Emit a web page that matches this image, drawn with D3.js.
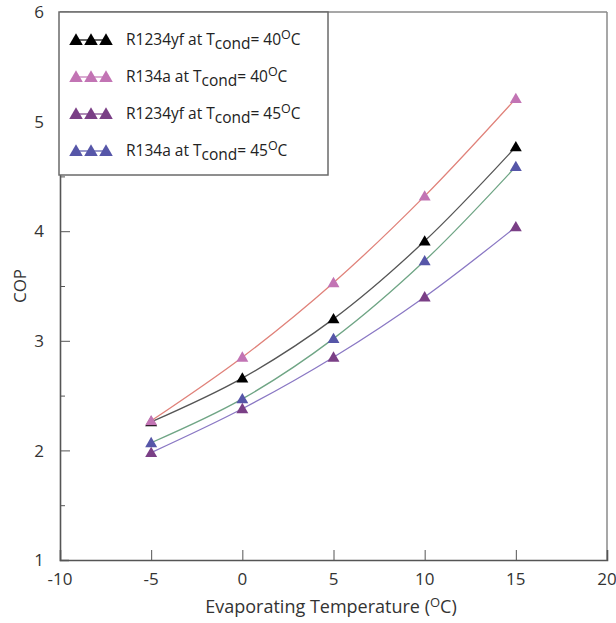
<!DOCTYPE html>
<html>
<head>
<meta charset="utf-8">
<script src="https://d3js.org/d3.v7.min.js"></script>
<style>
  body { margin: 0; background: #fff; }
  text { font-family: "Open Sans", sans-serif; fill: #333; }
</style>
</head>
<body>
<svg id="chart" width="616" height="623"></svg>
<script>
// values
var temps = [-5, 0, 5, 10, 15];
var r1234yf40 = [2.26, 2.66, 3.20, 3.91, 4.77];
var r134a40 = [2.27, 2.85, 3.53, 4.32, 5.21];
var r1234yf45 = [1.98, 2.38, 2.85, 3.40, 4.04];
var r134a45 = [2.07, 2.47, 3.02, 3.73, 4.59];
var seriesNames = ["R1234yf", "R134a", "R1234yf", "R134a"];
var condTemps = ["40", "40", "45", "45"];
var xTicks = [-10, -5, 0, 5, 10, 15, 20];
var yTicks = [1, 2, 3, 4, 5, 6];

var series = [
  {name: seriesNames[0], cond: condTemps[0], values: r1234yf40, marker: "#000000", line: "#555555"},
  {name: seriesNames[1], cond: condTemps[1], values: r134a40, marker: "#c274b4", line: "#e0827a"},
  {name: seriesNames[2], cond: condTemps[2], values: r1234yf45, marker: "#7a3f86", line: "#8a78c4"},
  {name: seriesNames[3], cond: condTemps[3], values: r134a45, marker: "#5656a8", line: "#6fa585"}
];

var pLeft = 60, pRight = 607, pTop = 12, pBottom = 560;
var svg = d3.select("#chart");

var x = d3.scaleLinear().domain([-10, 20]).range([pLeft, pRight]);
var y = d3.scaleLinear().domain([1, 6]).range([pBottom, pTop]);

// frame: top and right in lighter grey
svg.append("line").attr("x1", pLeft).attr("x2", pRight).attr("y1", pTop).attr("y2", pTop)
  .attr("stroke", "#8a8a8a").attr("stroke-width", 1.5);
svg.append("line").attr("x1", pRight).attr("x2", pRight).attr("y1", pTop).attr("y2", pBottom)
  .attr("stroke", "#8a8a8a").attr("stroke-width", 1.5);

// y axis, ticks pointing inward
var yAxis = svg.append("g").attr("transform", "translate(" + pLeft + ",0)")
  .call(d3.axisRight(y).tickValues(d3.range(1, 6.01, 0.5)).tickSize(9).tickFormat(""));
yAxis.selectAll(".tick line").attr("stroke", "#555").attr("x2", function(d) { return d % 1 === 0 ? 10 : 5; });
yAxis.select(".domain").attr("stroke", "#555").attr("stroke-width", 1.6);
svg.append("g").selectAll("text").data(yTicks).enter().append("text")
  .attr("x", pLeft - 16).attr("y", function(d) { return y(d); }).attr("dy", "0.36em")
  .attr("text-anchor", "end").style("font-size", "17px").text(function(d) { return d; });

// x axis, ticks pointing up
var xAxis = svg.append("g").attr("transform", "translate(0," + pBottom + ")")
  .call(d3.axisTop(x).tickValues(xTicks).tickSize(10).tickFormat(""));
xAxis.selectAll(".tick line").attr("stroke", "#555");
xAxis.select(".domain").attr("stroke", "#555").attr("stroke-width", 1.6);
svg.append("g").selectAll("text").data(xTicks).enter().append("text")
  .attr("x", function(d) { return x(d); }).attr("y", pBottom + 25)
  .attr("text-anchor", "middle").style("font-size", "17px").text(function(d) { return d; });

// axis titles
svg.append("text").attr("transform", "translate(26," + ((pTop + pBottom) / 2) + ") rotate(-90)")
  .attr("text-anchor", "middle").style("font-size", "17px").text("COP");
var xt = svg.append("text").attr("x", 331).attr("y", 613).attr("text-anchor", "middle").style("font-size", "18px");
xt.append("tspan").text("Evaporating Temperature (");
xt.append("tspan").attr("dy", -6).style("font-size", "13px").text("O");
xt.append("tspan").attr("dy", 6).text("C)");

// lines and markers
var line = d3.line()
  .x(function(d, i) { return x(temps[i]); })
  .y(function(d) { return y(d); })
  .curve(d3.curveCatmullRom.alpha(0.5));
var tri = d3.symbol().type(d3.symbolTriangle).size(62);
var triLegend = d3.symbol().type(d3.symbolTriangle).size(80);

series.forEach(function(s) {
  svg.append("path").attr("d", line(s.values)).attr("fill", "none")
    .attr("stroke", s.line).attr("stroke-width", 1.3);
});
[0, 3, 2, 1].forEach(function(k) {
  var s = series[k];
  svg.append("g").selectAll("path").data(s.values).enter().append("path")
    .attr("d", tri)
    .attr("transform", function(d, i) { return "translate(" + x(temps[i]) + "," + (y(d) + 1) + ")"; })
    .attr("fill", s.marker);
});

// legend
var lg = svg.append("g");
lg.append("rect").attr("x", 59).attr("y", 12).attr("width", 269).attr("height", 163)
  .attr("fill", "#fff").attr("stroke", "#6a6a6a").attr("stroke-width", 1.5);
series.forEach(function(s, i) {
  var cy = 40 + i * 37;
  lg.append("line").attr("x1", 76).attr("x2", 106).attr("y1", cy).attr("y2", cy)
    .attr("stroke", s.marker).attr("stroke-width", 1.2);
  [76, 91, 106].forEach(function(cx) {
    lg.append("path").attr("d", triLegend).attr("transform", "translate(" + cx + "," + (cy + 1) + ")").attr("fill", s.marker);
  });
  var t = lg.append("text").attr("x", 126).attr("y", cy + 5).style("font-size", "15.5px").style("fill", "#222");
  t.append("tspan").text(s.name + " at T");
  t.append("tspan").attr("dy", 4).text("cond");
  t.append("tspan").attr("dy", -4).text("= " + s.cond);
  t.append("tspan").attr("dy", -6).style("font-size", "12.5px").text("O");
  t.append("tspan").attr("dy", 6).text("C");
});
</script>
</body>
</html>
